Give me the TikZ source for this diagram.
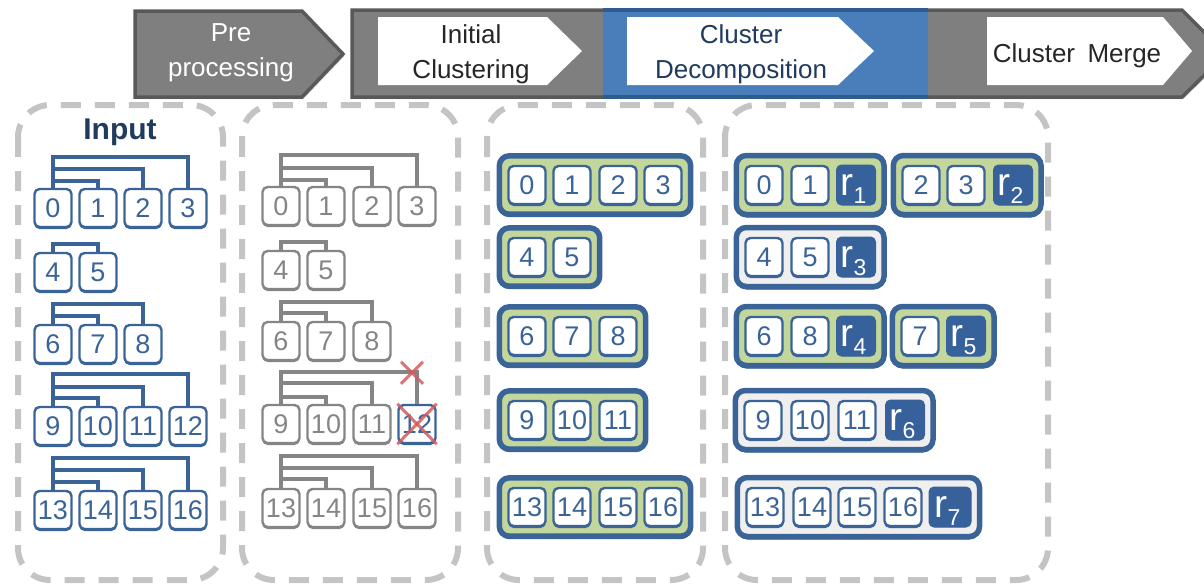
\documentclass[tikz,border=0pt]{standalone}
\usepackage{fontspec}
\setmainfont{Liberation Sans}
\usetikzlibrary{shadows,fit,backgrounds,calc}

\definecolor{boxblue}{HTML}{3A6497}
\definecolor{navy}{HTML}{1F3B5E}
\definecolor{rfill}{HTML}{37619A}
\definecolor{clgreen}{HTML}{C3D69B}
\definecolor{clgray}{HTML}{EFEFEF}
\definecolor{oldgray}{HTML}{858585}
\definecolor{dashgray}{HTML}{C4C4C4}
\definecolor{barfill}{HTML}{7F7F7F}
\definecolor{barline}{HTML}{595959}
\definecolor{barblue}{HTML}{4A7EBB}
\definecolor{barblueline}{HTML}{2F5C8F}
\definecolor{cutred}{HTML}{D05E5E}
\definecolor{stagetext}{HTML}{262626}

\newcommand{\numfont}{\fontsize{27}{27}\selectfont}
\newcommand{\stagefont}{\fontsize{26}{35}\selectfont}
\newcommand{\rsub}[1]{{\fontsize{39}{39}\selectfont r}\raisebox{-8pt}{\fontsize{23}{23}\selectfont #1}\kern5pt}

\tikzset{
  itembase/.style={fill=white, line width=2.4pt, rounded corners=5pt,
    minimum width=37pt, minimum height=38pt, inner sep=0pt, font=\numfont},
  item/.style={itembase, draw=boxblue, text=boxblue,
    drop shadow={shadow xshift=0pt, shadow yshift=-2pt, fill=boxblue, opacity=1}},
  olditem/.style={itembase, draw=oldgray, text=oldgray,
    drop shadow={shadow xshift=0pt, shadow yshift=-2pt, fill=oldgray, opacity=1}},
  rep/.style={fill=rfill, draw=rfill, line width=1pt, rounded corners=5pt,
    minimum width=39pt, minimum height=40pt, inner sep=0pt, text=white,
    text height=24pt, text depth=4pt},
  grp/.style={draw=boxblue, line width=5.5pt, rounded corners=10pt,
    inner xsep=8pt, inner ysep=9pt,
    drop shadow={shadow xshift=0pt, shadow yshift=-3pt, fill=boxblue, opacity=1}},
  grpgreen/.style={grp, fill=clgreen},
  grpgray/.style={grp, fill=clgray},
  tree/.style={draw=boxblue, line width=3.5pt},
  oldtree/.style={draw=oldgray, line width=3.5pt},
  cut/.style={draw=cutred, line width=3pt, opacity=0.85},
  panel/.style={draw=dashgray, line width=6pt, dash pattern=on 20pt off 14pt,
    rounded corners=32pt},
  stagebar/.style={fill=barfill, draw=barline, line width=3.5pt,
    drop shadow={shadow xshift=1.5pt, shadow yshift=-2pt, fill=black!35, opacity=0.5}},
  stagelabel/.style={font=\stagefont, align=center, inner sep=0pt},
}

\begin{document}
\begin{tikzpicture}[x=1pt, y=-1pt]
\useasboundingbox (0,0) rectangle (1204,584);
\clip (0,0) rectangle (1204,584);

% ---------- process stages ----------
\filldraw[stagebar] (135,11) -- (302,11) -- (343,54) -- (302,97) -- (135,97) -- cycle;
\node[stagelabel, text=white] (pre) at (231,53) {Pre\\processing};

\filldraw[stagebar] (352,10) -- (1182,10) -- (1226,54) -- (1182,97) -- (352,97) -- cycle;
\fill[barblue] (603,10) rectangle (928,97);
\draw[barblueline, line width=3.5pt] (603,10) -- (928,10) (603,97) -- (928,97);

\fill[white] (378,17) -- (547,17) -- (582,51) -- (547,85) -- (378,85) -- cycle;
\fill[white] (627,17) -- (838,17) -- (874,51) -- (838,85) -- (627,85) -- cycle;
\fill[white] (987,17) -- (1163,17) -- (1192,51) -- (1163,85) -- (987,85) -- cycle;
\node[stagelabel, text=stagetext] (init) at (471,54) {Initial\\Clustering};
\node[stagelabel, text=navy] (decomp) at (741,54) {Cluster\\Decomposition};
\node[stagelabel, text=stagetext] (merge) at (1077,56) {Cluster\hspace{0.2em} Merge};

% ---------- panels ----------
\draw[panel] (18,105) rectangle (223,580);
\draw[panel] (242,105) rectangle (458,580);
\draw[panel] (487,105) rectangle (703,580);
\draw[panel] (725,105) rectangle (1048,580);

% ---------- input hierarchy ----------
\node[font=\fontsize{30}{30}\selectfont\bfseries, text=navy, inner sep=0pt] (input) at (120,132) {Input};

\foreach \n/\x in {0/53,1/98,2/143,3/188} \node[item] (p1n\n) at (\x,208) {\n};
\foreach \n/\x in {4/53,5/98} \node[item] (p1n\n) at (\x,272) {\n};
\foreach \n/\x in {6/53,7/98,8/143} \node[item] (p1n\n) at (\x,344) {\n};
\foreach \n/\x in {9/53,10/98,11/143,12/188} \node[item] (p1n\n) at (\x,426) {\n};
\foreach \n/\x in {13/53,14/98,15/143,16/188} \node[item] (p1n\n) at (\x,510) {\n};

\draw[tree] (p1n0.north) -- ++(0,-31) -| (p1n3.north);
\draw[tree] (p1n0.north) ++(0,-19) -| (p1n2.north);
\draw[tree] (p1n0.north) ++(0,-7) -| (p1n1.north);
\draw[tree] (p1n4.north) -- ++(0,-8) -| (p1n5.north);
\draw[tree] (p1n6.north) -- ++(0,-20) -| (p1n8.north);
\draw[tree] (p1n6.north) ++(0,-8) -| (p1n7.north);
\draw[tree] (p1n9.north) -- ++(0,-32) -| (p1n12.north);
\draw[tree] (p1n9.north) ++(0,-19) -| (p1n11.north);
\draw[tree] (p1n9.north) ++(0,-8) -| (p1n10.north);
\draw[tree] (p1n13.north) -- ++(0,-32) -| (p1n16.north);
\draw[tree] (p1n13.north) ++(0,-20) -| (p1n15.north);
\draw[tree] (p1n13.north) ++(0,-8) -| (p1n14.north);

% ---------- initial clustering ----------
\foreach \n/\x in {0/281,1/326,2/372,3/417} \node[olditem] (p2n\n) at (\x,206) {\n};
\foreach \n/\x in {4/281,5/326} \node[olditem] (p2n\n) at (\x,270) {\n};
\foreach \n/\x in {6/281,7/326,8/372} \node[olditem] (p2n\n) at (\x,341) {\n};
\foreach \n/\x in {9/281,10/326,11/372} \node[olditem] (p2n\n) at (\x,424) {\n};
\node[item] (p2n12) at (417,424) {12};
\foreach \n/\x in {13/281,14/326,15/372,16/417} \node[olditem] (p2n\n) at (\x,508) {\n};

\draw[oldtree] (p2n0.north) -- ++(0,-31) -| (p2n3.north);
\draw[oldtree] (p2n0.north) ++(0,-18) -| (p2n2.north);
\draw[oldtree] (p2n0.north) ++(0,-6) -| (p2n1.north);
\draw[oldtree] (p2n4.north) -- ++(0,-8) -| (p2n5.north);
\draw[oldtree] (p2n6.north) -- ++(0,-19) -| (p2n8.north);
\draw[oldtree] (p2n6.north) ++(0,-8) -| (p2n7.north);
\draw[oldtree] (p2n9.north) -- ++(0,-32) -| (p2n12.north);
\draw[oldtree] (p2n9.north) ++(0,-21) -| (p2n11.north);
\draw[oldtree] (p2n9.north) ++(0,-7) -| (p2n10.north);
\draw[oldtree] (p2n13.north) -- ++(0,-32) -| (p2n16.north);
\draw[oldtree] (p2n13.north) ++(0,-20) -| (p2n15.north);
\draw[oldtree] (p2n13.north) ++(0,-9) -| (p2n14.north);

% removed link and removed element
\coordinate (cutlink) at ($(p2n12.north)+(-5,-31)$);
\draw[cut] ($(cutlink)+(-11,-11)$) -- ($(cutlink)+(11,11)$);
\draw[cut] ($(cutlink)+(-11,11)$) -- ($(cutlink)+(11,-11)$);
\draw[cut] (p2n12.north west) -- (p2n12.south east);
\draw[cut] (p2n12.north east) -- (p2n12.south west);

% ---------- cluster decomposition ----------
\foreach \n/\x in {0/527,1/572,2/618,3/663} \node[item] (p3n\n) at (\x,185) {\n};
\foreach \n/\x in {4/527,5/572} \node[item] (p3n\n) at (\x,257) {\n};
\foreach \n/\x in {6/527,7/572,8/618} \node[item] (p3n\n) at (\x,336) {\n};
\foreach \n/\x in {9/527,10/572,11/618} \node[item] (p3n\n) at (\x,420) {\n};
\foreach \n/\x in {13/527,14/572,15/618,16/663} \node[item] (p3n\n) at (\x,507) {\n};

\begin{scope}[on background layer]
  \node[grpgreen, fit=(p3n0)(p3n3)] (p3c0) {};
  \node[grpgreen, fit=(p3n4)(p3n5)] (p3c1) {};
  \node[grpgreen, fit=(p3n6)(p3n8)] (p3c2) {};
  \node[grpgreen, fit=(p3n9)(p3n11)] (p3c3) {};
  \node[grpgreen, fit=(p3n13)(p3n16)] (p3c4) {};
\end{scope}

% ---------- cluster merge ----------
\node[item] (p4n0) at (764,185) {0};
\node[item] (p4n1) at (810,185) {1};
\node[rep]  (p4r1) at (856,185) {\rsub{1}};
\node[item] (p4n2) at (921,185) {2};
\node[item] (p4n3) at (966,185) {3};
\node[rep]  (p4r2) at (1013,185) {\rsub{2}};

\node[item] (p4n4) at (764,257) {4};
\node[item] (p4n5) at (810,257) {5};
\node[rep]  (p4r3) at (856,257) {\rsub{3}};

\node[item] (p4n6) at (764,336) {6};
\node[item] (p4n8) at (810,336) {8};
\node[rep]  (p4r4) at (856,336) {\rsub{4}};
\node[item] (p4n7) at (920,336) {7};
\node[rep]  (p4r5) at (966,336) {\rsub{5}};

\node[item] (p4n9) at (763,420) {9};
\node[item] (p4n10) at (810,420) {10};
\node[item] (p4n11) at (857,420) {11};
\node[rep]  (p4r6) at (905,420) {\rsub{6}};

\node[item] (p4n13) at (765,507) {13};
\node[item] (p4n14) at (812,507) {14};
\node[item] (p4n15) at (857,507) {15};
\node[item] (p4n16) at (903,507) {16};
\node[rep, minimum width=42pt] (p4r7) at (950,507) {\rsub{7}};

\begin{scope}[on background layer]
  \node[grpgreen, fit=(p4n0)(p4r1)] (p4c0) {};
  \node[grpgreen, fit=(p4n2)(p4r2)] (p4c1) {};
  \node[grpgray,  fit=(p4n4)(p4r3)] (p4c2) {};
  \node[grpgreen, fit=(p4n6)(p4r4)] (p4c3) {};
  \node[grpgreen, fit=(p4n7)(p4r5)] (p4c4) {};
  \node[grpgray,  fit=(p4n9)(p4r6)] (p4c5) {};
  \node[grpgray,  fit=(p4n13)(p4r7)] (p4c6) {};
\end{scope}
\end{tikzpicture}
\end{document}
